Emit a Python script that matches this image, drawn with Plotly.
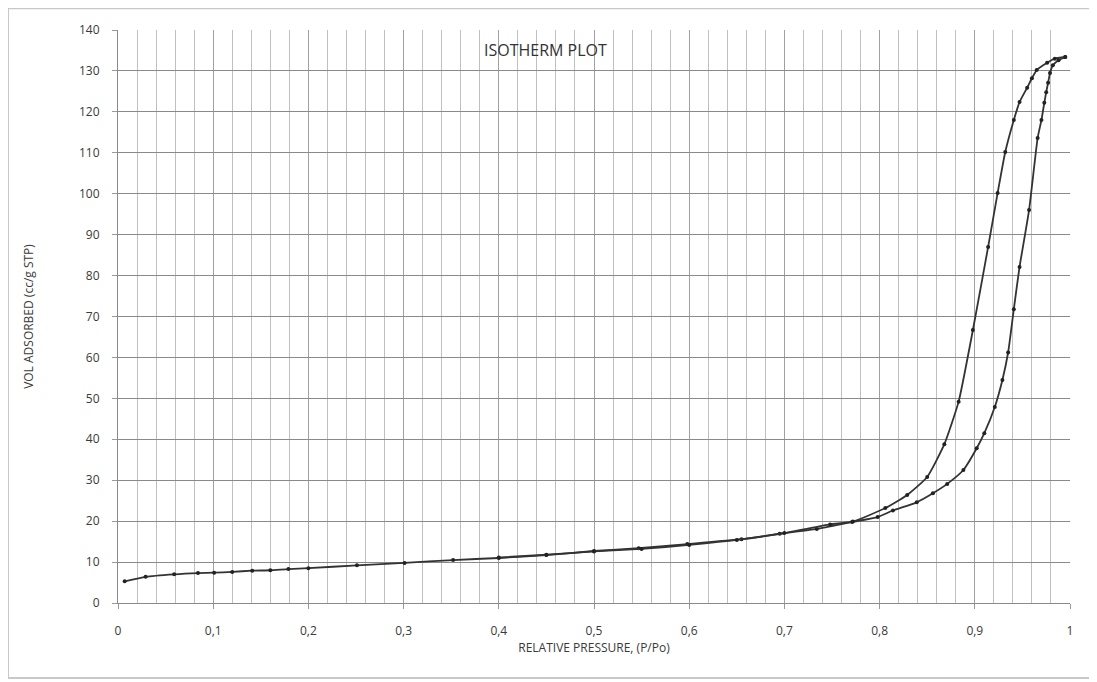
import plotly.graph_objects as go

# Adsorption branch
ads_p = [0.007, 0.029, 0.059, 0.084, 0.101, 0.12, 0.141, 0.16, 0.179, 0.20, 0.251, 0.301,
         0.352, 0.40, 0.45, 0.50, 0.547, 0.598, 0.655, 0.695, 0.734, 0.771, 0.798, 0.814,
         0.839, 0.856, 0.871, 0.888, 0.902, 0.910, 0.921, 0.929, 0.935, 0.941, 0.947, 0.957,
         0.966, 0.970, 0.973, 0.975, 0.977, 0.979, 0.982, 0.988, 0.995]
ads_v = [5.3, 6.4, 7.0, 7.3, 7.4, 7.6, 7.9, 8.0, 8.3, 8.5, 9.2, 9.8,
         10.5, 11.0, 11.7, 12.7, 13.4, 14.4, 15.6, 16.9, 18.1, 19.8, 21.0, 22.6,
         24.6, 26.8, 29.1, 32.5, 37.8, 41.5, 47.9, 54.5, 61.2, 71.8, 82.1, 96.0,
         113.6, 118.0, 122.2, 124.8, 127.1, 129.5, 131.4, 132.6, 133.4]

# Desorption branch
des_p = [0.995, 0.984, 0.976, 0.965, 0.960, 0.955, 0.947, 0.941, 0.932, 0.924, 0.914,
         0.898, 0.883, 0.868, 0.850, 0.829, 0.806, 0.772, 0.748, 0.70, 0.65, 0.60,
         0.55, 0.50, 0.45, 0.40]
des_v = [133.4, 133.0, 132.0, 130.2, 128.2, 125.9, 122.4, 118.0, 110.2, 100.2, 87.0,
         66.7, 49.2, 38.8, 30.8, 26.4, 23.2, 19.9, 19.2, 17.1, 15.4, 14.2,
         13.2, 12.6, 11.8, 11.1]

x_tickvals = [0, 0.1, 0.2, 0.3, 0.4, 0.5, 0.6, 0.7, 0.8, 0.9, 1.0]
x_ticktext = ["0", "0,1", "0,2", "0,3", "0,4", "0,5", "0,6", "0,7", "0,8", "0,9", "1"]
y_tickvals = list(range(0, 141, 10))

LINE = "#333333"
FONT = "Open Sans"
TXT = "#3a3a3a"

fig = go.Figure()
for px, vy in [(ads_p, ads_v), (des_p, des_v)]:
    fig.add_trace(go.Scatter(
        x=px, y=vy, mode="lines+markers",
        line=dict(color=LINE, width=1.8, shape="spline", smoothing=0.5),
        marker=dict(color="#222", size=4, symbol="circle"),
        showlegend=False, hoverinfo="x+y"))

fig.update_layout(
    width=1097, height=682,
    margin=dict(l=110, r=35, t=22, b=87),
    paper_bgcolor="white", plot_bgcolor="white",
    font=dict(family=FONT, size=12, color=TXT),
    xaxis=dict(
        range=[0, 1], tickvals=x_tickvals, ticktext=x_ticktext,
        showgrid=True, gridcolor="#a0a0a0", gridwidth=1,
        minor=dict(dtick=0.02, showgrid=True, gridcolor="#c0c0c0", gridwidth=1),
        ticks="outside", ticklen=5, tickcolor="#999",
        showline=True, linecolor="#8a8a8a", linewidth=1,
        zeroline=False, ticklabelstandoff=12,
        title=dict(text="RELATIVE PRESSURE, (P/Po)", standoff=4,
                   font=dict(family=FONT, size=12, color=TXT)),
        tickfont=dict(family=FONT, size=12, color=TXT),
    ),
    yaxis=dict(
        range=[0, 140], tickvals=y_tickvals,
        showgrid=True, gridcolor="#8a8a8a", gridwidth=1,
        ticks="outside", ticklen=5, tickcolor="#999",
        showline=True, linecolor="#8a8a8a", linewidth=1,
        zeroline=False, ticklabelstandoff=10,
        title=dict(text="VOL ADSORBED (cc/g STP)", standoff=42,
                   font=dict(family=FONT, size=12, color=TXT)),
        tickfont=dict(family=FONT, size=12, color=TXT),
    ),
    annotations=[dict(
        text="ISOTHERM PLOT", xref="paper", yref="paper",
        x=0.449, y=0.965, xanchor="center", yanchor="middle", showarrow=False,
        font=dict(family=FONT, size=16, color="#333"),
        bgcolor="rgba(255,255,255,0)")],
    shapes=[dict(
        type="rect", xref="paper", yref="paper",
        x0=-0.1155, x1=1.021, y0=-0.131, y1=1.038,
        line=dict(color="#c8c8c8", width=2), layer="below")],
)

fig.write_html("out.html")
